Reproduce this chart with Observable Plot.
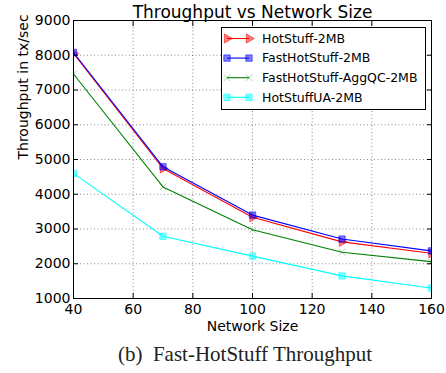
<!DOCTYPE html>
<html><head><meta charset="utf-8">
<script src="https://cdn.jsdelivr.net/npm/d3@7"></script>
<script src="https://cdn.jsdelivr.net/npm/@observablehq/plot@0.6"></script>
<style>
body{margin:0;background:#fff;}
#wrap{position:relative;width:446px;height:373px;font-family:"DejaVu Sans",sans-serif;}
#caption{position:absolute;left:0;top:342px;width:490px;text-align:center;font-family:"Liberation Serif","Times New Roman",serif;font-size:21px;color:#222;white-space:pre;line-height:24px;}
</style>
</head><body>
<div id="wrap"><div id="chart"></div><div id="caption"></div></div>
<script>
const title = "Throughput vs Network Size";
const xLabel = "Network Size";
const yLabel = "Throughput in tx/sec";
const caption = "(b)  Fast-HotStuff Throughput";
const sizes = [40, 70, 100, 130, 160];
const hotstuff2MB = [8050, 4740, 3340, 2630, 2300];
const fastHotstuff2MB = [8080, 4790, 3400, 2710, 2370];
const fastHotstuffAggQC2MB = [7460, 4210, 2980, 2330, 2060];
const hotstuffUA2MB = [4600, 2790, 2220, 1650, 1300];
const seriesNames = ["HotStuff-2MB", "FastHotStuff-2MB", "FastHotStuff-AggQC-2MB", "HotStuffUA-2MB"];
const xTicks = [40, 60, 80, 100, 120, 140, 160];
const yTicks = [1000, 2000, 3000, 4000, 5000, 6000, 7000, 8000, 9000];

const seriesValues = [hotstuff2MB, fastHotstuff2MB, fastHotstuffAggQC2MB, hotstuffUA2MB];
const styles = [
  {color: "#ff0000", symbol: "triangle", rotate: 90, r: 3.4, filled: true, op: 0.5},
  {color: "#0000ff", symbol: "square", rotate: 0, r: 3.6, filled: true, op: 0.5},
  {color: "#008000", symbol: "times", rotate: 0, r: 3.2, filled: false, op: 0.3},
  {color: "#00ffff", symbol: "square", rotate: 0, r: 3.6, filled: true, op: 0.5}
];

const marks = [
  Plot.gridX({ticks: xTicks, stroke: "#000", strokeOpacity: 0.45, strokeDasharray: "1,2.5"}),
  Plot.gridY({ticks: yTicks, stroke: "#000", strokeOpacity: 0.45, strokeDasharray: "1,2.5"})
];
seriesValues.forEach((vals, i) => {
  const st = styles[i];
  const data = sizes.map((x, j) => ({x, y: vals[j], series: seriesNames[i]}));
  marks.push(Plot.line(data, {x: "x", y: "y", stroke: st.color, strokeWidth: 1.1, clip: true}));
  marks.push(Plot.dot(data, {
    x: "x", y: "y", symbol: () => st.symbol, rotate: st.rotate, r: st.r, clip: true,
    fill: st.filled ? st.color : "none", fillOpacity: st.op,
    stroke: st.color, strokeOpacity: st.op + 0.05, strokeWidth: 1
  }));
});
marks.push(
  Plot.frame({stroke: "#000", strokeWidth: 1}),
  Plot.axisX({ticks: xTicks, tickSize: -5, tickPadding: 11, fontSize: 14, tickFormat: "d", label: null}),
  Plot.axisX({anchor: "top", ticks: xTicks, tickSize: -5, tickFormat: () => "", label: null}),
  Plot.axisY({ticks: yTicks, tickSize: -5, tickPadding: 8, fontSize: 14, tickFormat: "d", label: null}),
  Plot.axisY({anchor: "right", ticks: yTicks, tickSize: -5, tickFormat: () => "", label: null}),
  Plot.text([title], {text: d => d, frameAnchor: "top", dy: -3, lineAnchor: "bottom", fontSize: 17, fill: "#000"}),
  Plot.text([xLabel], {text: d => d, frameAnchor: "bottom", dy: 28, lineAnchor: "middle", fontSize: 14, fill: "#000"}),
  Plot.text([yLabel], {text: d => d, frameAnchor: "left", dx: -50, rotate: -90, lineAnchor: "middle", fontSize: 14, fill: "#000"})
);

const chart = Plot.plot({
  width: 446, height: 338,
  marginLeft: 73, marginRight: 15, marginTop: 20, marginBottom: 40,
  style: {fontFamily: "DejaVu Sans", color: "#000", background: "#fff"},
  x: {domain: [40, 160]},
  y: {domain: [1000, 9000]},
  marks
});
document.getElementById("chart").appendChild(chart);
document.getElementById("caption").textContent = caption;

// legend
const leg = d3.select("#wrap").append("svg")
  .style("position", "absolute").style("left", "221px").style("top", "27px")
  .attr("width", 205).attr("height", 83);
leg.append("rect").attr("x", 0.5).attr("y", 0.5).attr("width", 204).attr("height", 82)
  .attr("fill", "#fff").attr("stroke", "#000");
const symMap = {triangle: d3.symbolTriangle, square: d3.symbolSquare, times: d3.symbolTimes};
seriesNames.forEach((name, i) => {
  const st = styles[i];
  const y = 11.5 + i * 19.6;
  const g = leg.append("g");
  g.append("line").attr("x1", 6).attr("x2", 28).attr("y1", y).attr("y2", y)
    .attr("stroke", st.color).attr("stroke-width", 1.1);
  [6, 28].forEach(x => {
    g.append("path").attr("d", d3.symbol(symMap[st.symbol], st.r * st.r * Math.PI)())
      .attr("transform", `translate(${x},${y}) rotate(${st.rotate})`)
      .attr("fill", st.filled ? st.color : "none").attr("fill-opacity", st.op)
      .attr("stroke", st.color).attr("stroke-opacity", st.op + 0.05);
  });
  g.append("text").attr("x", 41).attr("y", y).attr("dy", "0.35em")
    .attr("font-family", "DejaVu Sans").attr("font-size", 12.5).attr("fill", "#000").text(name);
});
</script>
</body></html>
